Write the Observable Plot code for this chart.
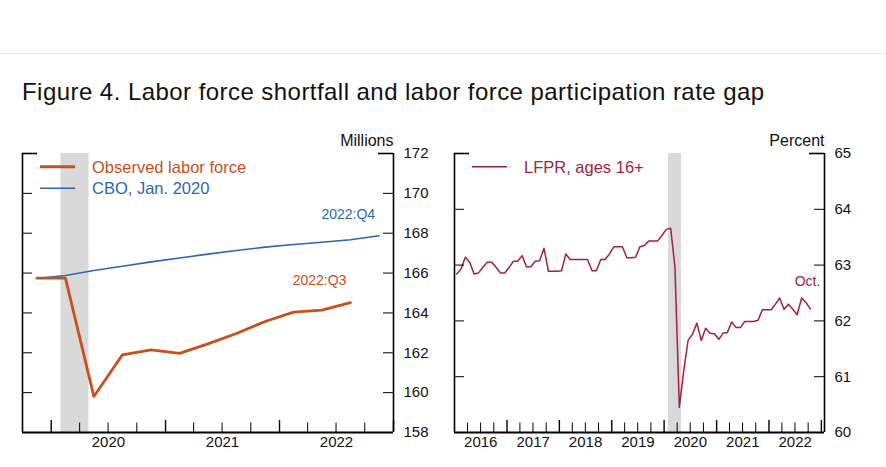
<!DOCTYPE html>
<html><head><meta charset="utf-8">
<script src="https://cdn.jsdelivr.net/npm/d3@7"></script>
<script src="https://cdn.jsdelivr.net/npm/@observablehq/plot@0.6"></script>
<style>
body{margin:0;background:#fff;font-family:"Liberation Sans",Arial,Helvetica,sans-serif;}
#root{position:relative;width:886px;height:467px;overflow:hidden;background:#fff;}
.abs{position:absolute;}
</style></head><body><div id="root"></div>
<script>
// ---------------- DATA ----------------
const title = "Figure 4. Labor force shortfall and labor force participation rate gap";

// Left panel: quarterly, millions
const obsQuarters = ["2019-10","2020-01","2020-04","2020-07","2020-10","2021-01","2021-04","2021-07","2021-10","2022-01","2022-04","2022-07"];
const obsValues   = [165.75,165.75,159.81,161.9,162.15,161.97,162.45,162.97,163.57,164.04,164.14,164.52];
const cboQuarters = ["2019-10","2020-01","2020-04","2020-07","2020-10","2021-01","2021-04","2021-07","2021-10","2022-01","2022-04","2022-07","2022-10"];
const cboValues   = [165.73,165.88,166.13,166.34,166.56,166.76,166.95,167.13,167.3,167.43,167.55,167.67,167.87];
const leftSeriesNames = ["Observed labor force","CBO, Jan. 2020"];
const leftEndLabels = ["2022:Q3","2022:Q4"];
const leftUnit = "Millions";
const leftYTicks = [158,160,162,164,166,168,170,172];
const leftXDomain = ["2019-10-01","2023-01-01"];
const leftYears = [2020,2021,2022];

// Right panel: monthly, percent (Jan 2016 - Oct 2022)
const lfprStart = "2016-01";
const lfprValues = [
  62.84,62.93,63.14,63.05,62.84,62.86,62.96,63.05,63.05,62.96,62.86,62.86,
  62.96,63.07,63.07,63.17,62.97,62.97,63.07,63.08,63.3,62.89,62.89,62.89,
  62.9,63.2,63.1,63.1,63.1,63.1,63.1,62.9,62.9,63.1,63.1,63.2,
  63.33,63.33,63.33,63.13,63.13,63.14,63.33,63.35,63.43,63.43,63.43,63.53,
  63.64,63.66,62.97,60.45,61.1,61.65,61.76,61.96,61.65,61.87,61.78,61.77,
  61.67,61.78,61.79,61.98,61.88,61.88,61.99,61.99,61.99,62.01,62.2,62.2,
  62.2,62.3,62.41,62.21,62.3,62.21,62.11,62.41,62.33,62.21
];
const rightSeriesName = "LFPR, ages 16+";
const rightEndLabel = "Oct.";
const rightUnit = "Percent";
const rightYTicks = [60,61,62,63,64,65];
const rightXDomain = ["2016-01-01","2023-01-23"];
const rightYears = [2016,2017,2018,2019,2020,2021,2022];

// Recession shading
const recession = [{start:"2020-02-01", end:"2020-05-01"}];

// ---------------- STYLE ----------------
const FONT = '"Liberation Sans", Arial, Helvetica, sans-serif';
const ORANGE = "#c8501c", BLUE = "#2a68b5", MAROON = "#a3213f", SHADE = "#d9d9d9";
const H = 332, MT = 23, MB = 30;

const parse = d3.utcParse("%Y-%m");
const pd = s => new Date(s + "T00:00:00Z");
const midQuarter = s => { const a = parse(s); const b = d3.utcMonth.offset(a,3); return new Date((+a + +b)/2); };
const midMonth = a => { const b = d3.utcMonth.offset(a,1); return new Date((+a + +b)/2); };
const midYear = y => { const a = new Date(Date.UTC(y,0,1)), b = new Date(Date.UTC(y+1,0,1)); return new Date((+a + +b)/2); };

const obs = obsQuarters.map((q,i)=>({date: midQuarter(q), value: obsValues[i]}));
const cbo = cboQuarters.map((q,i)=>({date: midQuarter(q), value: cboValues[i]}));
const lfpr = lfprValues.map((v,i)=>({date: midMonth(d3.utcMonth.offset(parse(lfprStart), i)), value: v}));
const rec = recession.map(r=>({start: pd(r.start), end: pd(r.end)}));

function panel({width, ml, mr, xDomain, yTicks, years, marks}) {
  const xd = xDomain.map(pd);
  const yd = [yTicks[0], yTicks[yTicks.length-1]];
  const fw = width - ml - mr, fh = H - MT - MB;
  const majors = d3.utcYear.range(d3.utcDay.offset(xd[0],1), d3.utcDay.offset(xd[1],1));
  const minors = d3.utcMonth.every(3).range(d3.utcDay.offset(xd[0],1), xd[1]).filter(d => d.getUTCMonth() !== 0);
  const inner = yTicks.slice(1, -1);
  return Plot.plot({
    width, height: H, marginLeft: ml, marginRight: mr, marginTop: MT, marginBottom: MB,
    style: {fontFamily: FONT, fontSize: "15px", overflow: "visible", background: "transparent"},
    x: {type: "utc", domain: xd},
    y: {domain: yd},
    marks: [
      Plot.rect(rec, {x1: "start", x2: "end", fill: SHADE}),
      ...marks,
      // frame: left, right, bottom
      Plot.ruleX(xd, {stroke: "#000", strokeWidth: 1.6}),
      Plot.ruleY([yd[0]], {stroke: "#000", strokeWidth: 1.8}),
      // inward x ticks
      Plot.ruleX(majors, {insetTop: fh - 12, stroke: "#000", strokeWidth: 1.4}),
      Plot.ruleX(minors, {insetTop: fh - 9.5, stroke: "#000", strokeWidth: 1}),
      // inward y ticks both sides
      Plot.ruleY(inner, {insetRight: fw - 10, stroke: "#000", strokeWidth: 1}),
      Plot.ruleY(inner, {insetLeft: fw - 10, stroke: "#000", strokeWidth: 1}),
      Plot.ruleY([yd[1]], {insetRight: fw - 15, stroke: "#000", strokeWidth: 1.6}),
      Plot.ruleY([yd[1]], {insetLeft: fw - 15, stroke: "#000", strokeWidth: 1.6}),
      // labels
      Plot.axisY({anchor: "right", ticks: yTicks, tickSize: 0, tickPadding: 10, tickFormat: d3.format("d"), label: null, fontSize: 15, fill: "#111"}),
      Plot.axisX({ticks: years.map(midYear), tickSize: 0, tickPadding: 4, tickFormat: d3.utcFormat("%Y"), label: null, fontSize: 15, fill: "#111"})
    ]
  });
}

const root = document.getElementById("root");

// top separator
const sep = document.createElement("div");
sep.className = "abs";
Object.assign(sep.style, {left: "0px", top: "53px", width: "886px", height: "0px", borderTop: "1px solid #e6e6e6"});
root.appendChild(sep);

// title
const t = document.createElement("div");
t.className = "abs";
t.textContent = title;
Object.assign(t.style, {left: "22px", top: "79.7px", fontSize: "24px", lineHeight: "24px", letterSpacing: "0.45px", color: "#111", whiteSpace: "nowrap"});
root.appendChild(t);

// left panel
const L = panel({
  width: 443, ml: 22, mr: 50, xDomain: leftXDomain, yTicks: leftYTicks, years: leftYears,
  marks: [
    Plot.line(cbo, {x: "date", y: "value", stroke: BLUE, strokeWidth: 1.6}),
    Plot.line(obs, {x: "date", y: "value", stroke: ORANGE, strokeWidth: 2.8}),
    Plot.text([cbo[cbo.length-1]], {x: "date", y: "value", text: () => leftEndLabels[1], textAnchor: "end", dx: -4, dy: -21, fill: BLUE, fontSize: 14}),
    Plot.text([obs[obs.length-1]], {x: "date", y: "value", text: () => leftEndLabels[0], textAnchor: "end", dx: -4, dy: -22, fill: ORANGE, fontSize: 14}),
    Plot.text([leftUnit], {text: d => d, frameAnchor: "top-right", textAnchor: "end", lineAnchor: "middle", dy: -13, fontSize: 16, fill: "#111"})
  ]
});
L.style.position = "absolute"; L.style.left = "0px"; L.style.top = "130px";
root.appendChild(L);

// right panel
const R = panel({
  width: 443, ml: 11, mr: 62, xDomain: rightXDomain, yTicks: rightYTicks, years: rightYears,
  marks: [
    Plot.line(lfpr, {x: "date", y: "value", stroke: MAROON, strokeWidth: 1.5}),
    Plot.text([lfpr[lfpr.length-1]], {x: "date", y: "value", text: () => rightEndLabel, textAnchor: "end", dx: 10, dy: -28, fill: MAROON, fontSize: 14}),
    Plot.text([rightUnit], {text: d => d, frameAnchor: "top-right", textAnchor: "end", lineAnchor: "middle", dy: -13, fontSize: 16, fill: "#111"})
  ]
});
R.style.position = "absolute"; R.style.left = "443px"; R.style.top = "130px";
root.appendChild(R);

// legends (overlay svg)
const ns = "http://www.w3.org/2000/svg";
const ov = document.createElementNS(ns, "svg");
ov.setAttribute("width", 886); ov.setAttribute("height", 467);
Object.assign(ov.style, {position: "absolute", left: "0px", top: "0px", pointerEvents: "none"});
root.appendChild(ov);
function legendItem(x, y, label, color, sw) {
  const ln = document.createElementNS(ns, "line");
  ln.setAttribute("x1", x); ln.setAttribute("x2", x + 35); ln.setAttribute("y1", y); ln.setAttribute("y2", y);
  ln.setAttribute("stroke", color); ln.setAttribute("stroke-width", sw);
  ov.appendChild(ln);
  const tx = document.createElementNS(ns, "text");
  tx.setAttribute("x", x + 52); tx.setAttribute("y", y + 6);
  tx.setAttribute("fill", color);
  tx.setAttribute("font-family", FONT); tx.setAttribute("font-size", "16.5");
  tx.textContent = label;
  ov.appendChild(tx);
}
legendItem(40, 166.7, leftSeriesNames[0], ORANGE, 3);
legendItem(40, 188.3, leftSeriesNames[1], BLUE, 1.6);
legendItem(472, 166.7, rightSeriesName, MAROON, 1.6);
</script></body></html>
